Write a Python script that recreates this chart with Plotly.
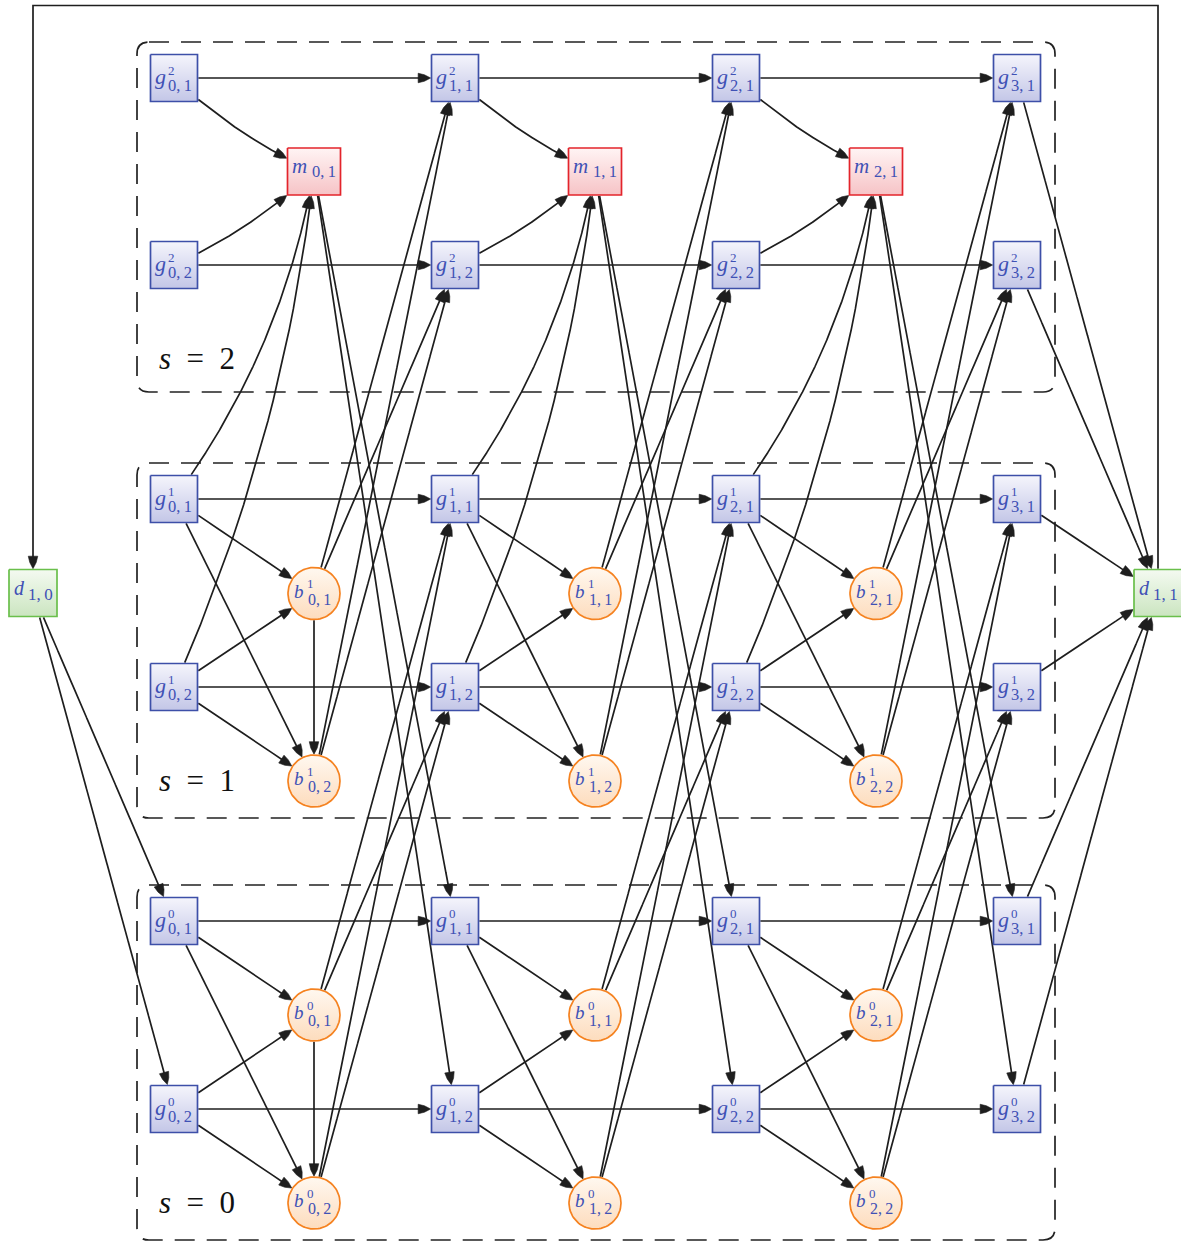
import numpy as np
import plotly.graph_objects as go

# ---------------- data (graph structure) ----------------
layers = [0, 1, 2]                      # s
g_steps = [0, 1, 2, 3]                  # k of g nodes
b_steps = [0, 1, 2]                     # k of b / m nodes
branches = [1, 2]                       # second index
layer_labels = ["s = 0", "s = 1", "s = 2"]
d_labels = ["1,0", "1,1"]

# ---------------- layout (pixel grid) ----------------
W, H = 1181, 1243
col_g = [174, 455, 736, 1017]
col_b = [314, 595, 876]
row_g = {2: [78, 265], 1: [499, 687], 0: [921, 1109]}
row_b = {1: [593.5, 781], 0: [1015, 1203]}
row_m = 171.5
d_pos = [(33, 593), (1158, 593)]
box_x = (137, 1055)
box_y = {2: (42, 392), 1: (463, 818), 0: (885, 1240)}
label_pos = {2: (197, 358), 1: (197, 780), 0: (197, 1202)}
loop_y = 5.5

STY = {
    "g": dict(w=47, h=47, top="#f5f5fc", bot="#c3c6e7", edge="#3d4fa8",
              L=(22, -14, -2), SUP=(13, -2.5, -8), SUB=(16.5, 5.5, 7.5)),
    "m": dict(w=53, h=47, top="#fff4f4", bot="#f6c3c6", edge="#e3242b",
              L=(21, -14.5, -6), SUB=(16.5, 10, 0)),
    "d": dict(w=48, h=47, top="#f4faf1", bot="#cbe5c0", edge="#6abf4b",
              L=(20, -14, -5), SUB=(17, 7, 1.5)),
    "b": dict(r=26, top="#fff8f0", bot="#fddcbd", edge="#f58220",
              L=(19, -15.5, -2.5), SUP=(13, -4, -10), SUB=(16, 5, 5.5)),
}
TXT = "#3f51b5"
LINE = "#1e1e1e"
FONT = "Liberation Serif"
AL, AW = 12.5, 9.5

# ---------------- nodes ----------------
nodes = {}
def add(name, kind, cx, cy, letter, sup, sub):
    nodes[name] = dict(kind=kind, cx=cx, cy=cy, letter=letter, sup=sup, sub=sub)

for s in layers:
    for k in g_steps:
        for i in branches:
            add(f"g{s}_{k}{i}", "g", col_g[k], row_g[s][i - 1], "g", str(s), f"{k},\u2009{i}")
for s in [0, 1]:
    for k in b_steps:
        for j in branches:
            add(f"b{s}_{k}{j}", "b", col_b[k], row_b[s][j - 1], "b", str(s), f"{k},\u2009{j}")
for k in b_steps:
    add(f"m_{k}", "m", col_b[k], row_m, "m", None, f"{k},\u20091")
for n, lab in enumerate(d_labels):
    add(f"d{n}", "d", d_pos[n][0], d_pos[n][1], "d", None, lab.replace(",", ",\u2009"))

# ---------------- edges ----------------
edges = []  # (src, dst, bend)
for s in layers:
    for k in g_steps[:-1]:
        for i in branches:
            edges.append((f"g{s}_{k}{i}", f"g{s}_{k+1}{i}", 0))
for s in [0, 1]:
    for k in b_steps:
        for i in branches:
            for j in branches:
                edges.append((f"g{s}_{k}{i}", f"b{s}_{k}{j}", 0))
                edges.append((f"b{s}_{k}{j}", f"g{s+1}_{k+1}{i}", 0))
    edges.append((f"b{s}_01", f"b{s}_02", 0))
for k in b_steps:
    for i in branches:
        edges.append((f"g2_{k}{i}", f"m_{k}", 14))
        edges.append((f"g1_{k}{i}", f"m_{k}", 42))
        edges.append((f"m_{k}", f"g0_{k+1}{i}", 0))
for i in branches:
    edges.append(("d0", f"g0_0{i}", 0))
for s in layers:
    for i in branches:
        edges.append((f"g{s}_3{i}", "d1", 0))

# ---------------- geometry helpers ----------------
def inside(nd, pts, pad=0.8):
    st = STY[nd["kind"]]
    if "r" in st:
        return np.hypot(pts[:, 0] - nd["cx"], pts[:, 1] - nd["cy"]) <= st["r"] + pad
    return (np.abs(pts[:, 0] - nd["cx"]) <= st["w"] / 2 + pad) & \
           (np.abs(pts[:, 1] - nd["cy"]) <= st["h"] / 2 + pad)

def head(tip, u):
    n = np.array([-u[1], u[0]])
    base = tip - u * AL
    return [tip,
            tip - u * AL * 0.5 + n * AW * 0.34,
            base + n * AW / 2,
            base - n * AW / 2,
            tip - u * AL * 0.5 - n * AW * 0.34,
            tip]

ex, ey, hx, hy = [], [], [], []
T = np.linspace(0, 1, 3001)
for a, b, bend in edges:
    A, B = nodes[a], nodes[b]
    p0 = np.array([A["cx"], A["cy"]], float)
    p2 = np.array([B["cx"], B["cy"]], float)
    d = p2 - p0
    L = np.hypot(*d)
    nrm = np.array([-d[1], d[0]]) / L
    p1 = (p0 + p2) / 2 + nrm * bend
    tt = T[:, None]
    pts = (1 - tt) ** 2 * p0 + 2 * (1 - tt) * tt * p1 + tt ** 2 * p2
    ins_a = inside(A, pts)
    ins_b = inside(B, pts)
    i0 = np.argmax(~ins_a)
    i1 = len(T) - 1 - np.argmax(~ins_b[::-1])
    tip = pts[i1]
    t1 = T[i1]
    der = 2 * (1 - t1) * (p1 - p0) + 2 * t1 * (p2 - p1)
    u = der / np.hypot(*der)
    dist = np.hypot(pts[:, 0] - tip[0], pts[:, 1] - tip[1])
    seg = pts[i0:i1 + 1]
    segd = dist[i0:i1 + 1]
    seg = seg[segd >= AL * 0.7]
    ex += list(seg[:, 0]) + [None]
    ey += list(seg[:, 1]) + [None]
    hp = head(tip, u)
    hx += [p[0] for p in hp] + [None]
    hy += [p[1] for p in hp] + [None]

# feedback loop d1 -> d0
d0, d1 = nodes["d0"], nodes["d1"]
top1 = d1["cy"] - STY["d"]["h"] / 2 - 0.8
top0 = d0["cy"] - STY["d"]["h"] / 2 - 0.8
ex += [d1["cx"], d1["cx"], d0["cx"], d0["cx"], None]
ey += [top1, loop_y, loop_y, top0 - AL * 0.7, None]
hp = head(np.array([d0["cx"], top0]), np.array([0.0, 1.0]))
hx += [p[0] for p in hp] + [None]
hy += [p[1] for p in hp] + [None]

fig = go.Figure()

# dashed layer boxes
rr = 12
shapes = []
for s in layers:
    x0, x1 = box_x
    y0, y1 = box_y[s]
    path = (f"M {x0+rr},{y0} L {x1-rr},{y0} Q {x1},{y0} {x1},{y0+rr} "
            f"L {x1},{y1-rr} Q {x1},{y1} {x1-rr},{y1} L {x0+rr},{y1} "
            f"Q {x0},{y1} {x0},{y1-rr} L {x0},{y0+rr} Q {x0},{y0} {x0+rr},{y0} Z")
    shapes.append(dict(type="path", path=path, xref="x", yref="y", layer="below",
                       line=dict(color="#222222", width=1.7, dash="20px,12px")))

fig.add_trace(go.Scatter(x=ex, y=ey, mode="lines", line=dict(color=LINE, width=1.7),
                         hoverinfo="skip", showlegend=False))
fig.add_trace(go.Scatter(x=hx, y=hy, mode="lines", fill="toself", fillcolor=LINE,
                         line=dict(color=LINE, width=0.6), hoverinfo="skip", showlegend=False))

# nodes
ann = []
theta = np.linspace(0, 2 * np.pi, 90)
for name, nd in nodes.items():
    st = STY[nd["kind"]]
    cx, cy = nd["cx"], nd["cy"]
    if "r" in st:
        r = st["r"]
        px = list(cx + r * np.cos(theta))
        py = list(cy + r * np.sin(theta))
        ytop, ybot = cy - r, cy + r
    else:
        w2, h2 = st["w"] / 2, st["h"] / 2
        px = [cx - w2, cx + w2, cx + w2, cx - w2, cx - w2]
        py = [cy - h2, cy - h2, cy + h2, cy + h2, cy - h2]
        ytop, ybot = cy - h2, cy + h2
    fig.add_trace(go.Scatter(
        x=px, y=py, mode="lines", fill="toself",
        fillgradient=dict(type="vertical", colorscale=[[0, st["top"]], [1, st["bot"]]],
                          start=ytop, stop=ybot),
        line=dict(color=st["edge"], width=1.7), hoverinfo="skip", showlegend=False))
    fs, dx, dy = st["L"]
    ann.append(dict(x=cx + dx, y=cy + dy, text=f"<i>{nd['letter']}</i>",
                    font=dict(family=FONT, size=fs, color=TXT)))
    if nd["sup"] is not None:
        fs, dx, dy = st["SUP"]
        ann.append(dict(x=cx + dx, y=cy + dy, text=nd["sup"],
                        font=dict(family=FONT, size=fs, color=TXT)))
    fs, dx, dy = st["SUB"]
    ann.append(dict(x=cx + dx, y=cy + dy, text=nd["sub"],
                    font=dict(family=FONT, size=fs, color=TXT)))

for s in layers:
    lx, ly = label_pos[s]
    txt = layer_labels[s].replace("s", "<i>s</i>", 1).replace(" ", "\u2002")
    ann.append(dict(x=lx, y=ly, text=txt, font=dict(family=FONT, size=31, color="#111111")))

for a in ann:
    a.update(xref="x", yref="y", showarrow=False, xanchor="center", yanchor="middle",
             borderpad=0)

fig.update_layout(
    width=W, height=H, margin=dict(l=0, r=0, t=0, b=0),
    paper_bgcolor="white", plot_bgcolor="white",
    xaxis=dict(range=[0, W], visible=False, fixedrange=True),
    yaxis=dict(range=[H, 0], visible=False, fixedrange=True),
    shapes=shapes, annotations=ann, showlegend=False,
)
fig.write_html("out.html", config={"displayModeBar": False},
               post_script="document.body.style.margin='0';")
